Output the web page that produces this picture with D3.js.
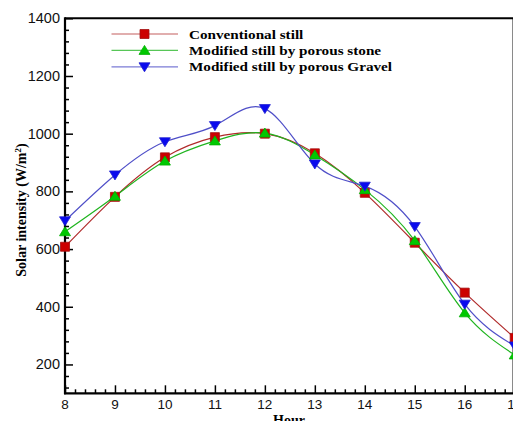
<!DOCTYPE html>
<html>
<head>
<meta charset="utf-8">
<script src="https://cdn.jsdelivr.net/npm/d3@7"></script>
<style>
  body { margin: 0; background: #fff; }
  svg { display: block; }
</style>
</head>
<body>
<svg id="chart" width="513" height="421"></svg>
<script>
// data
var hours = [8, 9, 10, 11, 12, 13, 14, 15, 16, 17];
var conventional = [608, 781, 918, 988, 1000, 932, 795, 622, 449, 292];
var stone = [660, 783, 905, 975, 1002, 926, 806, 629, 379, 233];
var gravel = [698, 857, 972, 1028, 1087, 895, 818, 678, 409, 264];
var seriesNames = ["Conventional still", "Modified still by porous stone", "Modified still by porous Gravel"];
var yTicks = [200, 400, 600, 800, 1000, 1200, 1400];

var svg = d3.select("#chart");

var x = d3.scaleLinear().domain([8, 17]).range([65, 514.7]);
var y = d3.scaleLinear().domain([100, 1400]).range([393.3, 18.3]);

var series = [
  {name: seriesNames[0], values: conventional, line: "#b02a2a", fill: "#cc0000", stroke: "#a31010", sym: "square"},
  {name: seriesNames[1], values: stone, line: "#1fb41f", fill: "#00c800", stroke: "#00b000", sym: "up"},
  {name: seriesNames[2], values: gravel, line: "#4f4fc8", fill: "#0a0aee", stroke: "#2020d0", sym: "down"}
];

function symbolPath(sym) {
  if (sym == "square") return "M-4.5,-4.5H4.5V4.5H-4.5Z";
  if (sym == "up") return "M0,-5L5.5,4L-5.5,4Z";
  return "M0,5L5.5,-4L-5.5,-4Z";
}

//frame
svg.append("line")
  .attr("x1", 512.5).attr("x2", 512.5)
  .attr("y1", y(1400)).attr("y2", y(100))
  .attr("stroke", "#8a8a8a").attr("stroke-width", 1);
svg.append("line")
  .attr("x1", x(8)).attr("x2", 513)
  .attr("y1", y(1400)).attr("y2", y(1400))
  .attr("stroke", "#000").attr("stroke-width", 2);

//y axis, ticks pointing inward
var yMinor = d3.range(120, 1400, 40).filter(function(v) { return v % 200 != 0; });
var yAxis = d3.axisRight(y).tickValues(yTicks).tickSize(8).tickFormat("");
var yAxisMinor = d3.axisRight(y).tickValues(yMinor).tickSize(4).tickFormat("");
svg.append("g").attr("transform", "translate(" + x(8) + ",0)").call(yAxisMinor);
svg.append("g").attr("transform", "translate(" + x(8) + ",0)").call(yAxis);

//x axis, ticks pointing inward
var xMinor = d3.range(8.2, 17, 0.2).filter(function(v) { return Math.abs(v - Math.round(v)) > 0.01; });
var xAxis = d3.axisTop(x).tickValues(hours).tickSize(8).tickFormat("");
var xAxisMinor = d3.axisTop(x).tickValues(xMinor).tickSize(4).tickFormat("");
svg.append("g").attr("transform", "translate(0," + y(100) + ")").call(xAxisMinor);
svg.append("g").attr("transform", "translate(0," + y(100) + ")").call(xAxis);

svg.selectAll(".domain").remove();
svg.selectAll(".tick line").attr("stroke", "#000").attr("stroke-width", 1.5);

svg.append("line")
  .attr("x1", x(8)).attr("x2", x(8))
  .attr("y1", y(1400) - 1).attr("y2", y(100) + 1)
  .attr("stroke", "#000").attr("stroke-width", 2.2);
svg.append("line")
  .attr("x1", x(8) - 1).attr("x2", 513)
  .attr("y1", y(100)).attr("y2", y(100))
  .attr("stroke", "#000").attr("stroke-width", 2.2);

//tick labels
svg.selectAll(".ylab")
  .data(yTicks)
  .enter().append("text")
  .attr("x", x(8) - 5)
  .attr("y", function(d) { return y(d) + 5; })
  .attr("text-anchor", "end")
  .attr("font-family", "Liberation Sans, Arial, sans-serif")
  .attr("font-size", "14.5")
  .attr("fill", "#111")
  .text(function(d) { return d; });

svg.selectAll(".xlab")
  .data(hours)
  .enter().append("text")
  .attr("x", function(d) { return x(d); })
  .attr("y", 408.5)
  .attr("text-anchor", "middle")
  .attr("font-family", "Liberation Sans, Arial, sans-serif")
  .attr("font-size", "13.5")
  .attr("fill", "#111")
  .text(function(d) { return d; });

//axis titles
svg.append("text")
  .attr("x", 289)
  .attr("y", 425)
  .attr("text-anchor", "middle")
  .attr("font-family", "Liberation Serif, Times New Roman, serif")
  .attr("font-weight", "700")
  .attr("font-size", "14")
  .text("Hour");

var yTitle = svg.append("text")
  .attr("transform", "translate(26,210) rotate(-90)")
  .attr("text-anchor", "middle")
  .attr("font-family", "Liberation Serif, Times New Roman, serif")
  .attr("font-weight", "700")
  .attr("font-size", "14");
yTitle.append("tspan").text("Solar intensity (W/m");
yTitle.append("tspan").attr("dy", -5).attr("font-size", "9").text("2");
yTitle.append("tspan").attr("dy", 5).text(")");

//curves
var line = d3.line()
  .x(function(d, i) { return x(hours[i]); })
  .y(function(d) { return y(d); })
  .curve(d3.curveNatural);

series.forEach(function(s) {
  svg.append("path")
    .attr("d", line(s.values))
    .attr("fill", "none")
    .attr("stroke", s.line)
    .attr("stroke-width", 1.2);
});

series.forEach(function(s) {
  svg.selectAll(null)
    .data(s.values)
    .enter().append("path")
    .attr("transform", function(d, i) { return "translate(" + x(hours[i]) + "," + y(d) + ")"; })
    .attr("d", symbolPath(s.sym))
    .attr("fill", s.fill)
    .attr("stroke", s.stroke)
    .attr("stroke-width", 0.8);
});

//legend
var legend = svg.append("g");
series.forEach(function(s, i) {
  var ly = 34 + i * 16.4;
  legend.append("line")
    .attr("x1", 111.5).attr("x2", 178)
    .attr("y1", ly).attr("y2", ly)
    .attr("stroke", s.line).attr("stroke-width", 1.2)
    .attr("opacity", 0.75);
  legend.append("path")
    .attr("transform", "translate(144.5," + ly + ")")
    .attr("d", symbolPath(s.sym))
    .attr("fill", s.fill)
    .attr("stroke", s.stroke)
    .attr("stroke-width", 0.8);
  // source text is drawn a bit wide, so stretch it sideways
  legend.append("text")
    .attr("transform", "translate(189," + (ly + 4.5) + ") scale(1.17,1)")
    .attr("font-family", "Liberation Serif, Times New Roman, serif")
    .attr("font-weight", "700")
    .attr("font-size", "13")
    .text(s.name);
});
</script>
</body>
</html>
